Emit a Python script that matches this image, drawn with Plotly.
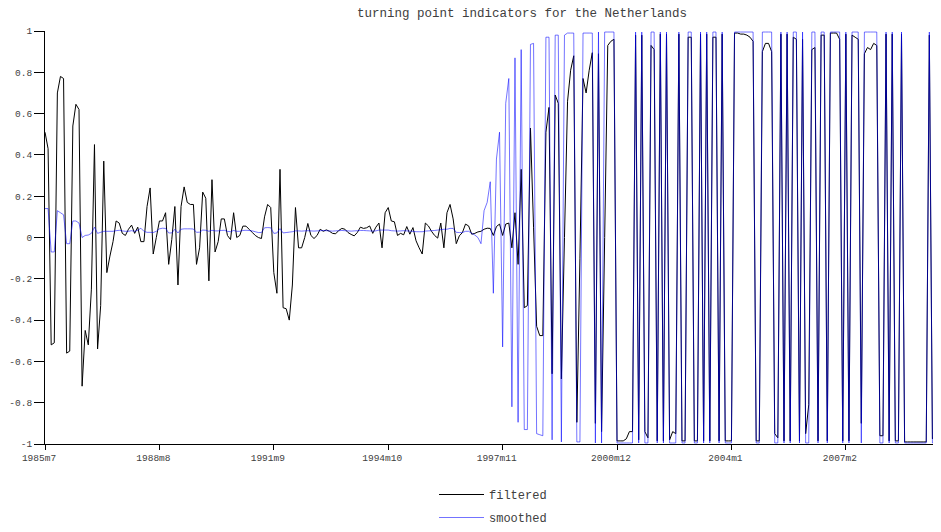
import plotly.graph_objects as go

# ---- data (monthly, starting 1985m7) ----
start_year = 1985
start_month = 7

filtered = [
    0.51, 0.43, -0.52, -0.51, 0.70, 0.78, 0.77, -0.56, -0.55, 0.54,
    0.645, 0.62, -0.72, -0.45, -0.52, -0.25, 0.45, -0.54, -0.33, 0.37,
    -0.17, -0.09, -0.02, 0.08, 0.07, 0.02, 0.01, 0.04, 0.06, 0.02,
    0.05, -0.02, -0.02, 0.15, 0.24, -0.08, 0.0, 0.08, 0.08, 0.12,
    -0.13, -0.01, 0.15, -0.23, 0.15, 0.245, 0.17, 0.16, 0.16, -0.13,
    -0.05, 0.22, 0.19, -0.21, 0.28, -0.07, -0.02, 0.09, 0.09, 0.01,
    -0.01, 0.12, 0.0, 0.01, 0.055, 0.055, 0.04, 0.025, 0.01, 0.0,
    -0.005, 0.10, 0.16, 0.145, -0.17, -0.27, 0.33, -0.34, -0.345, -0.40,
    -0.23, 0.145, -0.05, -0.05, 0.0, 0.068, 0.01, -0.005, 0.01, 0.04,
    0.03, 0.037, 0.03, 0.02, 0.018, 0.034, 0.044, 0.04, 0.024, 0.015,
    0.008, 0.024, 0.05, 0.044, 0.047, 0.056, 0.02, 0.05, 0.07, -0.05,
    0.12, 0.145, 0.08, 0.076, 0.01, 0.02, 0.013, 0.053, 0.016, 0.048,
    -0.016, -0.05, -0.08, 0.07, 0.056, 0.03, 0.01, -0.003, 0.07, -0.05,
    0.12, 0.16, 0.09, -0.03, 0.008, 0.024, 0.065, 0.056, 0.016, 0.02,
    0.027, 0.03, 0.04, 0.045, 0.044, 0.01, 0.053, 0.065, 0.01, 0.065,
    0.07, -0.05, 0.12, -0.13, 0.33, -0.34, -0.33, 0.53, 0.05, -0.43,
    -0.475, -0.475, 0.51, 0.63, -0.66, 0.69, 0.65, -0.685, 0.0, 0.66,
    0.81, 0.88, -0.895, -0.1, 0.77, 0.70, 0.81, 0.895, -0.90, 0.89,
    -0.94, 0.0, 0.93, 0.95, 0.96, -0.985, -0.985, -0.985, -0.975, -0.94,
    -0.94, 0.98, -0.98, 0.98, -0.94, -0.97, 0.93, 0.91, -0.985, 0.985,
    -0.985, 0.985, -0.98, -0.94, -0.95, 0.985, -0.985, -0.985, 0.97, 0.97,
    -0.985, -0.985, 0.985, -0.985, 0.985, -0.985, 0.97, 0.97, -0.985, 0.985,
    -0.985, -0.985, -0.985, 0.99, 0.99, 0.985, 0.985, 0.98, 0.97, 0.95,
    -0.985, -0.985, 0.90, 0.94, 0.94, 0.90, -0.95, -0.97, 0.985, -0.985,
    0.985, -0.985, 0.97, 0.96, -0.985, 0.96, -0.95, -0.81, 0.91, 0.92,
    -0.985, 0.98, 0.98, -0.985, 0.99, 0.99, 0.99, 0.96, -0.985, 0.985,
    -0.985, 0.98, 0.97, 0.96, -0.90, 0.89, 0.92, 0.91, 0.94, 0.93,
    -0.96, -0.96, 0.985, -0.985, 0.985, -0.985, -0.985, 0.985, -0.99, -0.99,
    -0.99, -0.99, -0.99, -0.99, -0.99, -0.99, 0.98, -0.975, -0.94, 0.97,
    0.96,
]
# rows above hold 10 months each; the final months are refined here
filtered[280:] = [-0.99, -0.99, -0.99, -0.99, -0.99, -0.99, 0.98, -0.975, -0.94, 0.97, 0.96]

smoothed = [
    0.14, 0.14, -0.07, -0.07, 0.13, 0.12, 0.11, -0.03, -0.03, 0.08,
    0.08, 0.07, 0.0, 0.01, 0.012, 0.02, 0.05, 0.02, 0.025, 0.03,
    0.03, 0.03, 0.03, 0.033, 0.035, 0.032, 0.03, 0.03, 0.033, 0.03,
    0.035, 0.045, 0.03, 0.025, 0.025, 0.024, 0.03, 0.042, 0.045, 0.044,
    0.022, 0.022, 0.04, 0.022, 0.04, 0.042, 0.042, 0.042, 0.041, 0.025,
    0.026, 0.036, 0.035, 0.03, 0.035, 0.032, 0.032, 0.034, 0.035, 0.03,
    0.028, 0.034, 0.03, 0.03, 0.034, 0.035, 0.034, 0.032, 0.028, 0.024,
    0.024, 0.047, 0.048, 0.047, 0.02, 0.022, 0.043, 0.022, 0.024, 0.026,
    0.028, 0.032, 0.032, 0.031, 0.032, 0.033, 0.032, 0.031, 0.032, 0.033,
    0.034, 0.033, 0.032, 0.031, 0.032, 0.033, 0.034, 0.033, 0.032, 0.031,
    0.032, 0.033, 0.034, 0.034, 0.033, 0.032, 0.031, 0.032, 0.036, 0.036,
    0.036, 0.036, 0.033, 0.032, 0.031, 0.032, 0.033, 0.032, 0.031, 0.030,
    0.028, 0.028, 0.028, 0.031, 0.032, 0.033, 0.034, 0.036, 0.038, 0.040,
    0.040, 0.044, 0.044, 0.025, 0.024, 0.024, 0.03, 0.03, 0.02, 0.012,
    0.0, -0.03, 0.13, 0.17, 0.27, -0.27, 0.38, 0.51, -0.53, 0.65,
    0.77, -0.82, 0.87, -0.895, 0.91, -0.93, -0.93, 0.935, 0.94, -0.95,
    -0.955, -0.96, 0.97, 0.97, -0.98, 0.98, 0.98, -0.99, 0.98, 0.99,
    0.99, 0.99, -0.99, -0.99, 0.99, 0.99, 0.99, 0.99, -0.995, 0.995,
    -0.995, 0.995, 0.995, 0.995, 0.995, -0.995, -0.995, -0.995, -0.995, -0.995,
    -0.995, 0.995, -0.995, 0.995, -0.995, -0.995, 0.995, 0.995, -0.995, 0.995,
    -0.995, 0.995, -0.995, -0.995, -0.995, 0.995, -0.995, -0.995, 0.995, 0.995,
    -0.995, -0.995, 0.995, -0.995, 0.995, -0.995, 0.995, 0.995, -0.995, 0.995,
    -0.995, -0.995, -0.995, 0.995, 0.995, 0.995, 0.995, 0.995, 0.995, 0.995,
    -0.995, -0.995, 0.995, 0.995, 0.995, 0.995, -0.995, -0.995, 0.995, -0.995,
    0.995, -0.995, 0.995, 0.995, -0.995, 0.995, -0.995, -0.995, 0.995, 0.995,
    -0.995, 0.995, 0.995, -0.995, 0.995, 0.995, 0.995, 0.995, -0.995, 0.995,
    -0.995, 0.995, 0.995, 0.995, -0.995, 0.995, 0.995, 0.995, 0.995, 0.995,
    -0.995, -0.995, 0.995, -0.995, 0.995, -0.995, -0.995, 0.995, -0.995, -0.995,
    -0.995, -0.995, -0.995, -0.995, -0.995, -0.995, 0.995, -0.995, -0.995, 0.995,
    -0.99,
]

n = len(smoothed)
periods = []
for k in range(n):
    m = start_month - 1 + k
    periods.append(f"{start_year + m // 12}m{m % 12 + 1}")
x_idx = list(range(n))
tick_idx = list(range(0, n, 37))
tick_txt = [periods[i] for i in tick_idx]

y_ticks = [-1, -0.8, -0.6, -0.4, -0.2, 0, 0.2, 0.4, 0.6, 0.8, 1]
y_ticktext = ["-1", "-0.8", "-0.6", "-0.4", "-0.2", "0", "0.2", "0.4", "0.6", "0.8", "1"]

FONT = "Liberation Mono, DejaVu Sans Mono, monospace"

# the page body adds an 8px offset, so the figure is 8px smaller than the window
W, H = 933, 524
L, R, T, B = 37, 1, 23, 88
plot_w = W - L - R
plot_h = H - T - B

fig = go.Figure()
fig.add_trace(go.Scatter(
    x=x_idx, y=filtered, mode="lines", name="filtered",
    line=dict(color="black", width=1, simplify=False), legendgroup="a",
    text=periods, hovertemplate="%{text}: %{y}<extra></extra>",
))
fig.add_trace(go.Scatter(
    x=x_idx, y=smoothed, mode="lines", name="smoothed",
    line=dict(color="rgba(0,0,255,0.55)", width=1, simplify=False), legendgroup="b",
    text=periods, hovertemplate="%{text}: %{y}<extra></extra>",
))

fig.update_layout(
    width=W, height=H,
    margin=dict(l=L, r=R, t=T, b=B, autoexpand=False),
    paper_bgcolor="white", plot_bgcolor="white",
    font=dict(family=FONT, color="#404040", size=10),
    title=dict(text="turning point indicators for the Netherlands",
               x=514 / W, xanchor="center", y=1 - 5 / H, yanchor="middle",
               font=dict(family=FONT, size=12.5, color="#404040")),
    showlegend=True,
    legend=dict(x=(426 - L) / plot_w, xanchor="left",
                y=-(472 - (H - B)) / plot_h, yanchor="top",
                font=dict(family=FONT, size=12, color="#404040"),
                tracegroupgap=4, itemwidth=45, bgcolor="rgba(0,0,0,0)"),
    xaxis=dict(range=[0, 289.45], showgrid=False, zeroline=False, automargin=False,
               showline=True, linecolor="black", linewidth=1,
               ticks="outside", ticklen=5, tickcolor="black",
               tickvals=tick_idx, ticktext=tick_txt, ticklabelshift=-6,
               tickfont=dict(family=FONT, size=9.5, color="#404040")),
    yaxis=dict(range=[-1, 1], showgrid=False, zeroline=False, automargin=False,
               showline=True, linecolor="black", linewidth=1,
               ticks="outside", ticklen=10, tickcolor="black",
               tickvals=y_ticks, ticktext=y_ticktext,
               tickfont=dict(family=FONT, size=9.5, color="#404040")),
)

fig.write_html("out.html")
